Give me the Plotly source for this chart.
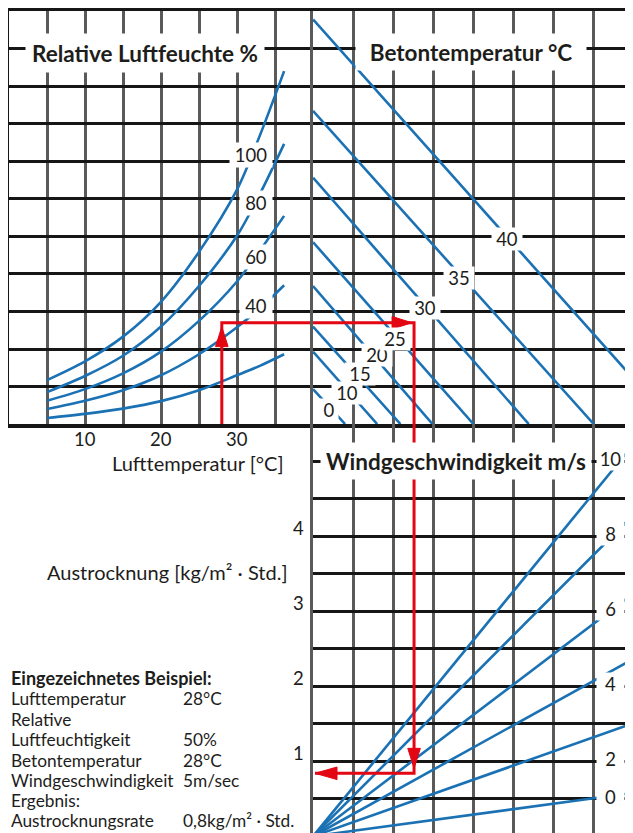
import plotly.graph_objects as go

# ---------------- data ----------------
# top-left: relative humidity curves (level in grid units over air temperature)
air_temp = [5, 10, 15, 20, 25, 30, 33, 36.2]
rh_levels = [100, 80, 60, 40, 20]
rh_100 = [1.17, 1.67, 2.33, 3.26, 4.59, 6.25, 7.69, 9.41]
rh_80 = [0.85, 1.28, 1.82, 2.60, 3.68, 5.02, 6.13, 7.47]
rh_60 = [0.62, 0.93, 1.35, 1.93, 2.75, 3.80, 4.62, 5.55]
rh_40 = [0.40, 0.62, 0.90, 1.30, 1.86, 2.58, 3.08, 3.70]
rh_20 = [0.16, 0.27, 0.41, 0.61, 0.90, 1.30, 1.55, 1.86]
rh_label_levels = [100, 80, 60, 40]
rh_label_temp = [31.9, 32.5, 32.5, 32.5]
rh_label_y = [7.18, 5.88, 4.45, 3.15]
air_temp_ticks = [10, 20, 30]
air_temp_grid = [5, 10, 15, 20, 25, 30, 35]

# top-right: concrete temperature lines
concrete_temps = [0, 10, 15, 20, 25, 30, 35, 40]
concrete_start = [0.93, 1.93, 2.60, 3.68, 4.85, 6.57, 8.35, 10.79]   # level at left edge
concrete_end = [0.80, 1.60, 2.18, 2.98, 4.00, 5.38, 7.00, 9.00]      # position at bottom edge
concrete_label_x = [0.40, 0.85, 1.18, 1.60, 2.05, 2.80, 3.65, 4.85]
concrete_label_y = [0.37, 0.82, 1.33, 1.83, 2.28, 3.10, 3.90, 4.93]

# bottom: wind speed fan (evaporation rate reached at x = 8)
wind_speeds = [0, 2, 4, 6, 8, 10]
wind_evap_at_end = [0.58, 1.51, 2.37, 3.24, 4.29, 5.23]
wind_label_levels = [0.5, 1, 2, 3, 4, 5]
evap_ticks = [1, 2, 3, 4]

# worked example (red path)
example_air_temp = 28
example_level = 2.70
example_deficit = 2.52
example_evap = 0.84

example_title = "Eingezeichnetes Beispiel:"
example_labels = ["Lufttemperatur", "Relative", "Luftfeuchtigkeit", "Betontemperatur",
                  "Windgeschwindigkeit", "Ergebnis:", "Austrocknungsrate"]
example_values = ["28°C", "", "50%", "28°C", "5m/sec", "", "0,8kg/m² · Std."]

# ---------------- styling / layout ----------------
W, H = 633, 833
OFF = 8  # page body margin: figure origin sits at (8, 8) in the screenshot
BLUE = "#1a71b4"
RED = "#e30613"
VGRID = "#5a5a5a"
HGRID = "#161616"
TXT = "#1d1d1b"
FONT = "Lato, 'Open Sans', sans-serif"


def px_x(p):
    return (p - OFF) / W


def px_y(p):
    return 1 - (p - OFF) / H


X_MID = 313
Y_MID = 423
X_RIGHT_END = W + OFF
Y_BOTTOM_END = H + OFF

X1_RANGE = [0, 40]
Y_TOP_RANGE = [0, 11]
SX2 = 40.1                      # px per unit on the right-hand x scale
X2_RANGE = [0, (X_RIGHT_END - X_MID) / SX2]
SY3 = 75.2                      # px per kg/m²·h
EVAP_ZERO_PX = 836.3
Y3_RANGE = [(EVAP_ZERO_PX - Y_BOTTOM_END) / SY3, (EVAP_ZERO_PX - Y_MID) / SY3]

SX1 = (X_MID - 9) / (X1_RANGE[1] - X1_RANGE[0])
SY_TOP = (Y_MID - 8) / (Y_TOP_RANGE[1] - Y_TOP_RANGE[0])

fig = go.Figure()

line_style = dict(color=BLUE, width=2.6)

for lvl, ys in zip(rh_levels, [rh_100, rh_80, rh_60, rh_40, rh_20]):
    fig.add_trace(go.Scatter(x=air_temp, y=ys, mode="lines",
                             line=dict(color=BLUE, width=2.6, shape="spline", smoothing=0.9),
                             xaxis="x", yaxis="y", name=f"{lvl} %", hoverinfo="skip"))

for t, y0, x0 in zip(concrete_temps, concrete_start, concrete_end):
    fig.add_trace(go.Scatter(x=[0, x0], y=[y0, 0], mode="lines", line=line_style,
                             xaxis="x2", yaxis="y2", name=f"{t} °C", hoverinfo="skip"))

for v, e in zip(wind_speeds, wind_evap_at_end):
    fig.add_trace(go.Scatter(x=[0, 8], y=[0, e], mode="lines", line=line_style,
                             xaxis="x3", yaxis="y3", name=f"{v} m/s", hoverinfo="skip"))

# red example path
red_line = dict(color=RED, width=3)
fig.add_trace(go.Scatter(x=[example_air_temp, example_air_temp, X1_RANGE[1]],
                         y=[0, example_level, example_level], mode="lines", line=red_line,
                         xaxis="x", yaxis="y", hoverinfo="skip"))
fig.add_trace(go.Scatter(x=[0, example_deficit, example_deficit],
                         y=[example_level, example_level, 0], mode="lines", line=red_line,
                         xaxis="x2", yaxis="y2", hoverinfo="skip"))
fig.add_trace(go.Scatter(x=[example_deficit, example_deficit, 2 / SX2],
                         y=[Y3_RANGE[1], example_evap, example_evap], mode="lines", line=red_line,
                         xaxis="x3", yaxis="y3", hoverinfo="skip"))


def head(tip_x, tip_y, ux, uy, sx, sy, xa, ya, length=20, half=6.3):
    bx = tip_x - ux * length / sx
    by = tip_y - uy * length / sy
    nx, ny = -uy, ux
    xs = [tip_x, bx + nx * half / sx, bx - nx * half / sx, tip_x]
    ys = [tip_y, by + ny * half / sy, by - ny * half / sy, tip_y]
    return go.Scatter(x=xs, y=ys, mode="lines", fill="toself", fillcolor=RED,
                      line=dict(color=RED, width=1), xaxis=xa, yaxis=ya, hoverinfo="skip")


fig.add_trace(head(example_air_temp, example_level - 4 / SY_TOP, 0, 1, SX1, SY_TOP, "x", "y"))
fig.add_trace(head(example_deficit - 2 / SX2, example_level, 1, 0, SX2, SY_TOP, "x2", "y2"))
fig.add_trace(head(example_deficit, example_evap + 5 / SY3, 0, -1, SX2, SY3, "x3", "y3"))
fig.add_trace(head(2 / SX2, example_evap, -1, 0, SX2, SY3, "x3", "y3", length=22))

common = dict(showticklabels=False, ticks="", zeroline=False, showgrid=True, gridwidth=2.5)
fig.update_layout(
    width=W, height=H, autosize=False,
    margin=dict(l=0, r=0, t=0, b=0),
    paper_bgcolor="white", plot_bgcolor="white", showlegend=False,
    xaxis=dict(domain=[px_x(9), px_x(X_MID)], range=X1_RANGE, tickvals=air_temp_grid,
               gridcolor=VGRID, showline=True, linecolor=HGRID, linewidth=3.5, mirror=True,
               anchor="y", **common),
    yaxis=dict(domain=[px_y(Y_MID), px_y(9.5)], range=Y_TOP_RANGE, dtick=1, tick0=0,
               gridcolor=HGRID, showline=True, linecolor=HGRID, linewidth=3, anchor="x", **common),
    xaxis2=dict(domain=[px_x(X_MID), 1], range=X2_RANGE, dtick=1, tick0=0, gridcolor=VGRID,
                showline=True, linecolor=HGRID, linewidth=3.5, mirror=True, anchor="y2", **common),
    yaxis2=dict(domain=[px_y(Y_MID), px_y(9.5)], range=Y_TOP_RANGE, dtick=1, tick0=0,
                gridcolor=HGRID, showline=True, linecolor=VGRID, linewidth=3, anchor="x2",
                layer="below traces", **common),
    xaxis3=dict(domain=[px_x(X_MID), 1], range=X2_RANGE, dtick=1, tick0=0, gridcolor=VGRID,
                showline=False, anchor="y3", **common),
    yaxis3=dict(domain=[0, px_y(Y_MID)], range=Y3_RANGE, dtick=0.5, tick0=0,
                gridcolor=HGRID, showline=True, linecolor=VGRID, linewidth=3, anchor="x3",
                layer="below traces", **common),
)

anns = []


def box(text, x, y, xref, yref, size, w=None, h=None, bold=False, pad=0, yshift=0):
    d = dict(text=f"<b>{text}</b>" if bold else text, x=x, y=y, xref=xref, yref=yref,
             showarrow=False, bgcolor="white", borderpad=pad, yshift=yshift,
             font=dict(family=FONT, size=size, color=TXT), xanchor="center", yanchor="middle")
    if w:
        d["width"] = w
    if h:
        d["height"] = h
    anns.append(d)


def label(text, x, y, size, anchor="center", bold=False):
    anns.append(dict(text=f"<b>{text}</b>" if bold else text, x=px_x(x), y=px_y(y),
                     xref="paper", yref="paper", showarrow=False, xanchor=anchor,
                     yanchor="middle", font=dict(family=FONT, size=size, color=TXT)))


# panel titles
box("Relative Luftfeuchte %", px_x(145), px_y(51), "paper", "paper", 22.5, w=238, h=38, bold=True)
box("Betontemperatur °C", px_x(471), px_y(50), "paper", "paper", 22.5, w=230, h=36, bold=True)
box("Windgeschwindigkeit m/s", px_x(456), px_y(460), "paper", "paper", 22.5, w=270, h=36, bold=True)

# curve labels
for lvl, t, yv in zip(rh_label_levels, rh_label_temp, rh_label_y):
    box(str(lvl), t, yv, "x", "y", 18.5, w=42 if lvl >= 100 else 32, h=24)
for t, xv, yv in zip(concrete_temps, concrete_label_x, concrete_label_y):
    box(str(t), xv, yv, "x2", "y2", 18.5, w=30 if t >= 10 else 18, h=22)
for v, lv in zip(wind_speeds, wind_label_levels):
    box(str(v), (610 - X_MID) / SX2, lv, "x3", "y3", 18.5, w=27, h=22, yshift=2)

# axis tick labels
for t in air_temp_ticks:
    anns.append(dict(text=str(t), x=t, y=0, xref="x", yref="y", showarrow=False, yshift=-15,
                     xanchor="center", yanchor="middle",
                     font=dict(family=FONT, size=18.5, color=TXT)))
for e in evap_ticks:
    anns.append(dict(text=str(e), x=px_x(306), y=e, xref="paper", yref="y3", showarrow=False,
                     yshift=8, xanchor="right", yanchor="middle",
                     font=dict(family=FONT, size=18.5, color=TXT)))

label("Lufttemperatur [°C]", 198, 462, 20)
label("Austrocknung [kg/m² · Std.]", 167, 571, 20)

# example text block
row_y = [678, 698, 719, 739, 760, 780, 800, 820]
label(example_title, 9, row_y[0], 18, anchor="left", bold=True)
for lab, val, ry in zip(example_labels, example_values, row_y[1:]):
    label(lab, 9, ry, 17.3, anchor="left")
    if val:
        label(val, 181, ry, 17.3, anchor="left")

fig.update_layout(annotations=anns)
fig.write_html("out.html")
